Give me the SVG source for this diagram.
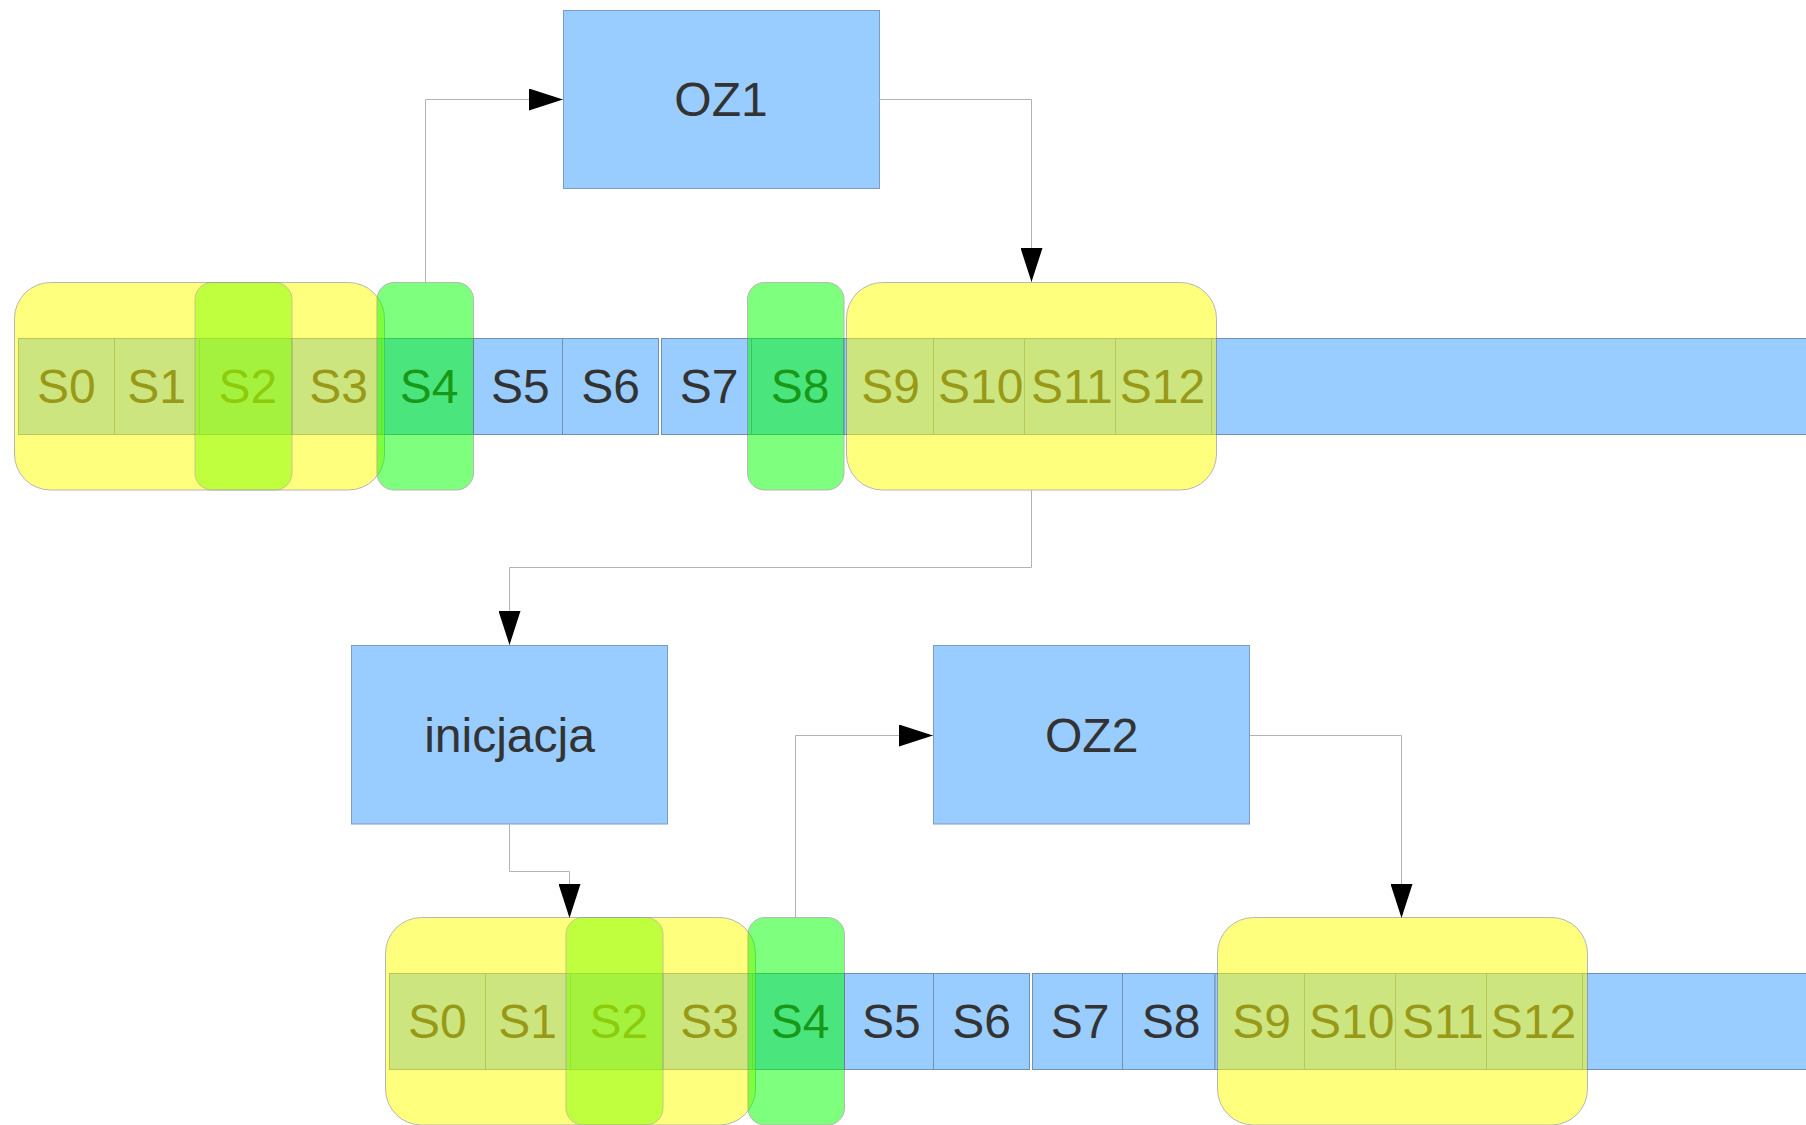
<svg xmlns="http://www.w3.org/2000/svg" width="1806" height="1125" viewBox="0 0 1806 1125">
  <style>
    .cell { fill: #99ccff; stroke: #7290b0; stroke-width: 1; }
    .box { fill: #99ccff; stroke: #7a9cc6; stroke-width: 1; }
    .lbl { font-family: "Liberation Sans", Arial, sans-serif; font-size: 48px; fill: #333333; text-anchor: middle; }
    .span { fill: #ffff00; stroke: #707070; stroke-width: 1; opacity: 0.5; }
    .mark { fill: #00ff00; stroke: #707070; stroke-width: 1; opacity: 0.5; }
    .mark-lime { fill: #80ff00; stroke: #909090; stroke-width: 1; opacity: 0.5; }
    .wire { fill: none; stroke: #b3b3b3; stroke-width: 1; marker-end: url(#arrow); }
  </style>
  <defs>
    <marker id="arrow" viewBox="0 0 34 22" refX="34" refY="11" markerWidth="34" markerHeight="22" markerUnits="userSpaceOnUse" orient="auto">
      <path d="M0,0 L34,11 L0,22 Z" fill="#000000"/>
    </marker>
    <!-- one register row: cells S0..S12 plus the open-ended tail -->
    <g id="row-cells">
      <g id="c-s0"><rect class="cell" x="18.5" y="338.5" width="96" height="96"/><text class="lbl" x="66.3" y="403">S0</text></g>
      <g id="c-s1"><rect class="cell" x="114.5" y="338.5" width="85" height="96"/><text class="lbl" x="156.7" y="403">S1</text></g>
      <g id="c-s2"><rect class="cell" x="199.5" y="338.5" width="92.5" height="96"/><text class="lbl" x="247.8" y="403">S2</text></g>
      <g id="c-s3"><rect class="cell" x="292" y="338.5" width="89.5" height="96"/><text class="lbl" x="338.5" y="403">S3</text></g>
      <g id="c-s4"><rect class="cell" x="381.5" y="338.5" width="92" height="96"/><text class="lbl" x="429.2" y="403">S4</text></g>
      <g id="c-s5"><rect class="cell" x="473.5" y="338.5" width="89" height="96"/><text class="lbl" x="520.3" y="403">S5</text></g>
      <g id="c-s6"><rect class="cell" x="562.5" y="338.5" width="96" height="96"/><text class="lbl" x="610.7" y="403">S6</text></g>
      <g id="c-s7"><rect class="cell" x="661.5" y="338.5" width="90" height="96"/><text class="lbl" x="709.2" y="403">S7</text></g>
      <g id="c-s8"><rect class="cell" x="751.5" y="338.5" width="92.5" height="96"/><text class="lbl" x="800" y="403">S8</text></g>
      <g id="c-s9"><rect class="cell" x="844" y="338.5" width="89.5" height="96"/><text class="lbl" x="890.5" y="403">S9</text></g>
      <g id="c-s10"><rect class="cell" x="933.5" y="338.5" width="91" height="96"/><text class="lbl" x="980.8" y="403">S10</text></g>
      <g id="c-s11"><rect class="cell" x="1024.5" y="338.5" width="91" height="96"/><text class="lbl" x="1071.8" y="403">S11</text></g>
      <g id="c-s12"><rect class="cell" x="1115.5" y="338.5" width="96" height="96"/><text class="lbl" x="1162.5" y="403">S12</text></g>
      <g id="c-tail"><rect class="cell" x="1211.5" y="338.5" width="610" height="96"/></g>
    </g>
  </defs>

  <!-- upper register row -->
  <g id="row1">
    <use href="#row-cells"/>
    <g id="row1-span-a"><rect class="span" x="14.5" y="282.5" width="370" height="207.5" rx="36" ry="36"/></g>
    <g id="row1-mark-s2"><rect class="mark-lime" x="195" y="282.5" width="97" height="207.5" rx="17" ry="17"/></g>
    <g id="row1-mark-s4"><rect class="mark" x="377" y="282.5" width="96.5" height="207.5" rx="17" ry="17"/></g>
    <g id="row1-mark-s8"><rect class="mark" x="747.5" y="282.5" width="96.5" height="207.5" rx="17" ry="17"/></g>
    <g id="row1-span-b"><rect class="span" x="846.5" y="282.5" width="370" height="207.5" rx="36" ry="36"/></g>
  </g>

  <!-- lower register row -->
  <g id="row2" transform="translate(371,635)">
    <use href="#row-cells"/>
    <g id="row2-span-a"><rect class="span" x="14.5" y="282.5" width="370" height="207.5" rx="36" ry="36"/></g>
    <g id="row2-mark-s2"><rect class="mark-lime" x="195" y="282.5" width="97" height="207.5" rx="17" ry="17"/></g>
    <g id="row2-mark-s4"><rect class="mark" x="377" y="282.5" width="96.5" height="207.5" rx="17" ry="17"/></g>
    <g id="row2-span-b"><rect class="span" x="846.5" y="282.5" width="370" height="207.5" rx="36" ry="36"/></g>
  </g>

  <!-- processing blocks -->
  <g id="oz1">
    <rect class="box" x="563.5" y="10.5" width="316" height="178"/>
    <text class="lbl" x="721" y="116">OZ1</text>
  </g>
  <g id="inicjacja">
    <rect class="box" x="351.5" y="645.5" width="316" height="178.5"/>
    <text class="lbl" x="509.5" y="751.5">inicjacja</text>
  </g>
  <g id="oz2">
    <rect class="box" x="933.5" y="645.5" width="316" height="178.5"/>
    <text class="lbl" x="1091.7" y="751.5">OZ2</text>
  </g>

  <!-- connectors -->
  <g id="connectors">
    <path class="wire" d="M425.5,282 V99.5 H563"/>
    <path class="wire" d="M879.5,99.5 H1031.5 V282"/>
    <path class="wire" d="M1031.5,490 V567.5 H509.5 V645"/>
    <path class="wire" d="M509.5,824 V871.5 H569.5 V918"/>
    <path class="wire" d="M795.5,918 V735.5 H933"/>
    <path class="wire" d="M1250,735.5 H1401.5 V918"/>
  </g>
</svg>
